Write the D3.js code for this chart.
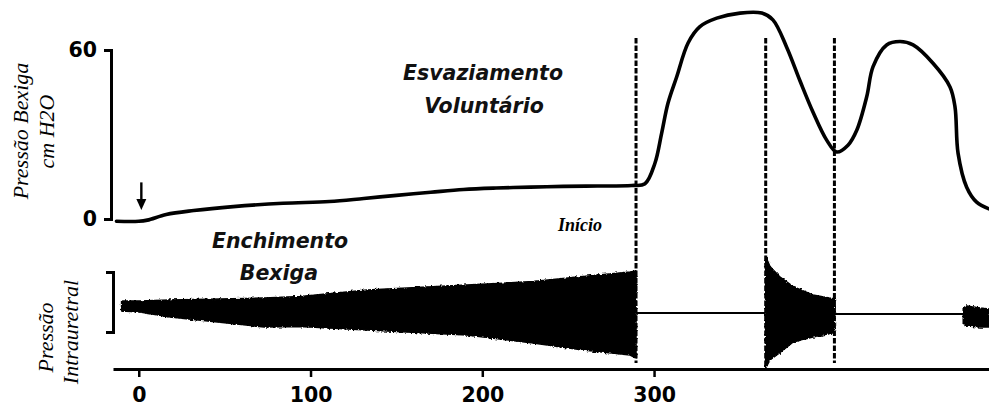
<!DOCTYPE html>
<html>
<head>
<meta charset="utf-8">
<script src="https://cdn.jsdelivr.net/npm/d3@7"></script>
<style>
  html, body { margin: 0; padding: 0; background: #fff; }
  svg { display: block; }
</style>
</head>
<body>
<svg id="chart" width="989" height="410"></svg>
<script>
// ---- data -------------------------------------------------------------
// Bladder pressure (cm H2O) against time
const bladderTime = [-13, 0, 5, 16, 32, 55, 84, 111, 131, 150, 170, 189, 208, 228, 247, 267, 287,
  294.7, 300.5, 304.4, 308.1, 313.2, 319.8, 326.7, 336.5, 350, 362.7, 369.2, 377.2, 385, 392.5,
  400.5, 406.3, 412.9, 418, 423.8, 427.5, 435.4, 443.2, 450.8, 462.4, 472.3, 475.2, 477, 482, 487.8, 495];
const bladderPressure = [-0.8, -0.8, -0.4, 1.6, 3.0, 4.4, 5.6, 6.2, 7.3, 8.4, 9.5, 10.5, 11.0, 11.3, 11.6, 11.7, 11.9,
  12.5, 19.8, 30.4, 41.1, 50.5, 62.5, 68.3, 71.3, 73.1, 73.1, 70.7, 61.0, 49.0, 38.0,
  28.0, 23.8, 26.2, 31.5, 43.4, 54.1, 61.8, 63.0, 61.8, 55.3, 46.9, 39.8, 23.3, 11.3, 6.0, 3.6];

// Intraurethral pressure: upper / lower envelope of the oscillating trace
// (equal values = quiet baseline during voiding)
const urethraTime = [-10, 0.7, 18, 73, 94, 133, 191, 229.5, 258.6, 286, 289.5,
  289.5, 365,
  365, 367.5, 373, 381, 392.5, 403.6, 405,
  405, 480,
  480, 482, 490, 495];
const urethraHigh = [5.5, 5.5, 6, 7, 7.7, 11, 13.5, 15.2, 17.7, 20, 20.5,
  -0.5, -0.5,
  27.7, 22.7, 17.7, 12.7, 8.5, 6.8, 6.8,
  -1, -1,
  2, 3, 2, 1.5];
const urethraLow = [0.5, 0, -2.5, -7.5, -7.3, -9, -11.5, -15.5, -19, -21.5, -23,
  -0.5, -0.5,
  -28, -24, -20.5, -15, -12.5, -10.5, -10.5,
  -1, -1,
  -6, -7, -7.5, -7.5];

// Time axis ticks and pressure axis ticks
const timeTicks = [0, 100, 200, 300];
const pressureTicks = [0, 60];

// Voiding phase markers (time) and how far down each dashed line reaches
const phaseMarkTime = [289.5, 365, 405];
const phaseMarkTop = 64.3;                   // cm H2O
const phaseMarkBottom = [-25.5, -28, -25.5]; // urethral units

// Start-of-filling arrow: time, from / to pressure
const fillArrowTime = 1.5;
const fillArrowFrom = 13;
const fillArrowTo = 3.2;

// ---- scales -----------------------------------------------------------
const svg = d3.select("#chart");
const x = d3.scaleLinear().domain([-15, 495]).range([113, 989]);
const yTop = d3.scaleLinear().domain([0, 60]).range([219, 50]);
const yLow = d3.scaleLinear().domain([-10, 20]).range([332, 272]);

// slight roughening of the dense oscillation envelope
const defs = svg.append("defs");
const rough = defs.append("filter").attr("id", "rough")
  .attr("x", "-3%").attr("y", "-15%").attr("width", "106%").attr("height", "130%");
rough.append("feTurbulence").attr("type", "fractalNoise")
  .attr("baseFrequency", "0.45 0.5").attr("numOctaves", 2).attr("seed", 4).attr("result", "n");
rough.append("feDisplacementMap").attr("in", "SourceGraphic").attr("in2", "n")
  .attr("scale", 3.5).attr("xChannelSelector", "R").attr("yChannelSelector", "G");

// ---- phase markers ----------------------------------------------------
svg.append("g").selectAll("line")
  .data(phaseMarkTime)
  .join("line")
  .attr("x1", d => x(d)).attr("x2", d => x(d))
  .attr("y1", yTop(phaseMarkTop))
  .attr("y2", (d, i) => yLow(phaseMarkBottom[i]))
  .attr("stroke", "#000").attr("stroke-width", 3)
  .attr("stroke-dasharray", "5.5,2");

// ---- axes -------------------------------------------------------------
const tickFont = "'DejaVu Sans', sans-serif";

const leftAxis = svg.append("g").attr("transform", "translate(111,0)")
  .call(d3.axisLeft(yTop).tickValues(pressureTicks).tickSize(7).tickSizeOuter(7).tickPadding(7));
leftAxis.select(".domain").attr("stroke-width", 3);
leftAxis.selectAll(".tick line").attr("stroke-width", 3);
leftAxis.selectAll(".tick text")
  .attr("font-family", tickFont).attr("font-weight", "bold").attr("font-size", 20.5)
  .attr("fill", "#000");

const bracket = svg.append("g").attr("transform", "translate(113,0)")
  .call(d3.axisLeft(yLow).tickValues([]).tickSizeOuter(7));
bracket.select(".domain").attr("stroke-width", 3);

const bottomAxis = svg.append("g").attr("transform", "translate(0,369)")
  .call(d3.axisBottom(x).tickValues(timeTicks).tickSize(8).tickSizeOuter(0).tickPadding(10));
bottomAxis.select(".domain").attr("stroke-width", 3);
bottomAxis.selectAll(".tick line").attr("stroke-width", 2.5);
bottomAxis.selectAll(".tick text")
  .attr("font-family", tickFont).attr("font-weight", "bold").attr("font-size", 20.5)
  .attr("fill", "#000");

// ---- bladder pressure trace -------------------------------------------
const bladder = d3.range(bladderTime.length).map(i => [bladderTime[i], bladderPressure[i]]);
svg.append("path")
  .datum(bladder)
  .attr("d", d3.line().x(d => x(d[0])).y(d => yTop(d[1])).curve(d3.curveCatmullRom.alpha(0.5)))
  .attr("fill", "none").attr("stroke", "#000").attr("stroke-width", 3.6)
  .attr("stroke-linejoin", "round").attr("stroke-linecap", "round");

// ---- intraurethral pressure trace -------------------------------------
const urethra = d3.range(urethraTime.length).map(i => ({
  t: urethraTime[i], hi: urethraHigh[i], lo: urethraLow[i]
}));
svg.append("path")
  .datum(urethra)
  .attr("d", d3.line().defined(d => d.hi === d.lo)
    .x(d => x(d.t)).y(d => yLow(d.hi)))
  .attr("fill", "none").attr("stroke", "#000").attr("stroke-width", 2.2);
svg.append("path")
  .datum(urethra)
  .attr("d", d3.area().defined(d => d.hi > d.lo)
    .x(d => x(d.t)).y0(d => yLow(d.lo)).y1(d => yLow(d.hi)))
  .attr("fill", "#000").attr("stroke", "#000").attr("stroke-width", 1.5)
  .attr("stroke-linejoin", "round")
  .attr("filter", "url(#rough)");

// ---- start-of-filling arrow --------------------------------------------
const ax = x(fillArrowTime);
const aTip = yTop(fillArrowTo);
svg.append("line")
  .attr("x1", ax).attr("x2", ax)
  .attr("y1", yTop(fillArrowFrom)).attr("y2", aTip - 6)
  .attr("stroke", "#000").attr("stroke-width", 2.4);
svg.append("path")
  .attr("d", `M${ax - 5},${aTip - 11}L${ax + 5},${aTip - 11}L${ax},${aTip}Z`)
  .attr("fill", "#000");

// ---- labels -------------------------------------------------------------
const phaseFont = "'DejaVu Sans', sans-serif";
function phaseLabel(lines, cx, baselines) {
  lines.forEach((s, i) => {
    svg.append("text")
      .attr("x", cx[i]).attr("y", baselines[i])
      .attr("text-anchor", "middle")
      .attr("font-family", phaseFont).attr("font-style", "italic")
      .attr("font-weight", "bold").attr("font-size", 20.5)
      .attr("fill", "#111")
      .text(s);
  });
}
phaseLabel(["Esvaziamento", "Voluntário"], [483, 484], [80, 113]);
phaseLabel(["Enchimento", "Bexiga"], [280, 279], [248, 280]);

svg.append("text")
  .attr("x", 558).attr("y", 231)
  .attr("font-family", "'Liberation Serif', serif")
  .attr("font-style", "italic").attr("font-weight", "bold").attr("font-size", 18)
  .attr("fill", "#000")
  .text("Início");

// rotated axis titles
function axisTitle(text, baselineX, centerY) {
  svg.append("text")
    .attr("transform", `translate(${baselineX},${centerY}) rotate(-90)`)
    .attr("text-anchor", "middle")
    .attr("font-family", "'Liberation Serif', serif")
    .attr("font-style", "italic").attr("font-size", 22)
    .attr("fill", "#000")
    .text(text);
}
axisTitle("Pressão Bexiga", 27.5, 131);
axisTitle("cm H2O", 53.5, 131.5);
axisTitle("Pressão", 52.5, 337.5);
axisTitle("Intrauretral", 77.5, 332);
</script>
</body>
</html>
